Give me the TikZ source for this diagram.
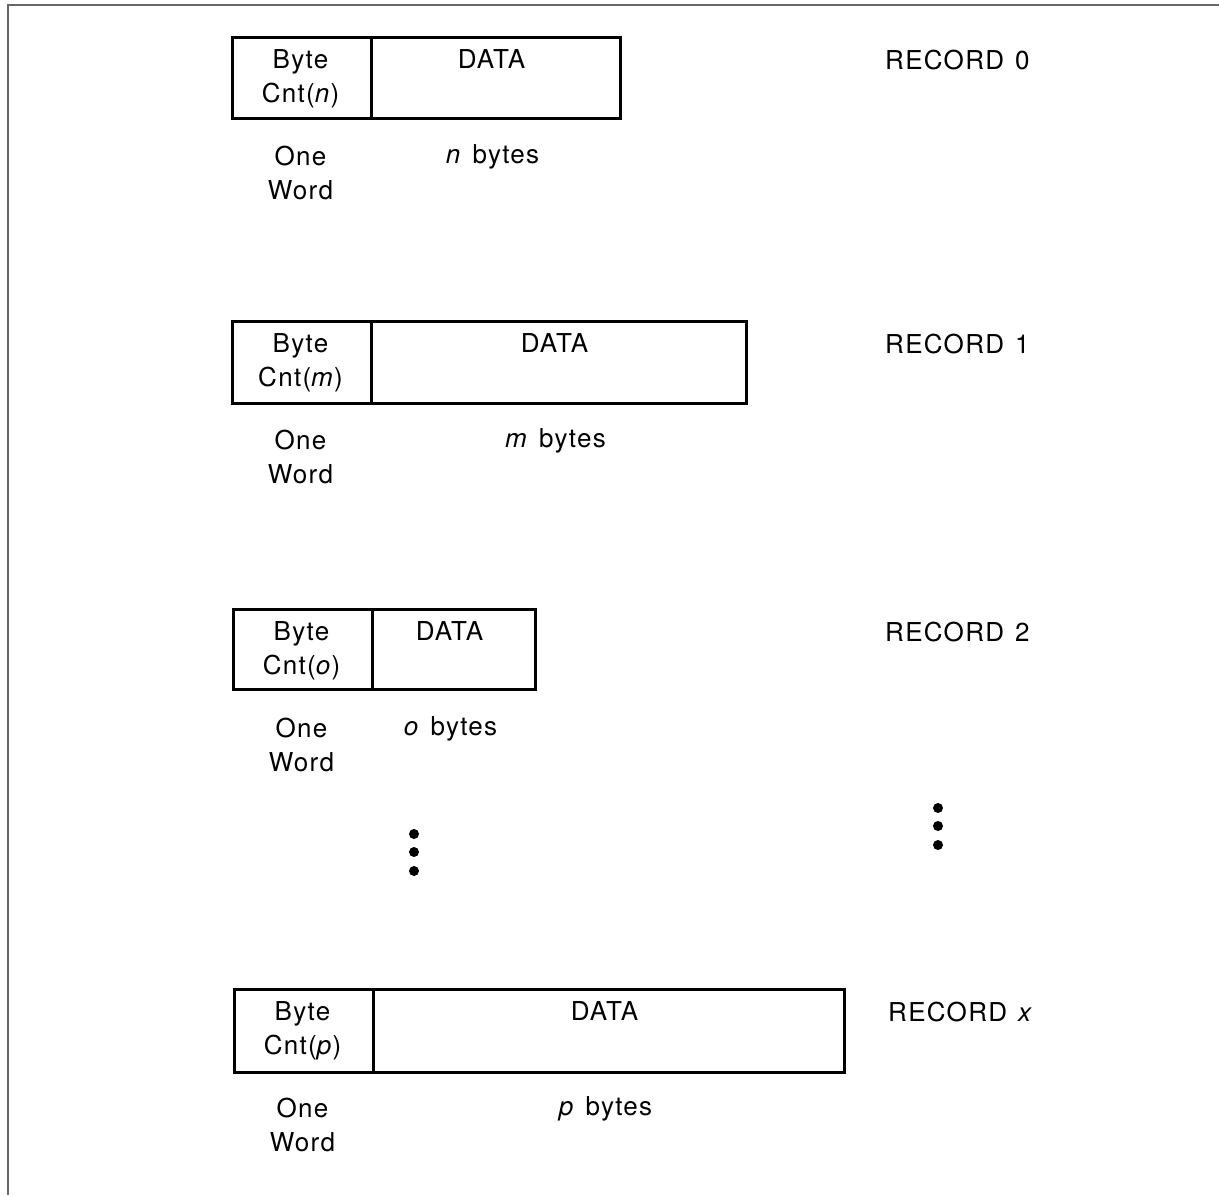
\documentclass[tikz,border=0pt]{standalone}
\usepackage{fontspec}
\setmainfont[LetterSpace=5,WordSpace=1.3]{TeX Gyre Heros}
\begin{document}
\begin{tikzpicture}[x=1pt,y=-1pt,
  cell/.style={draw=black,line width=2.6pt,inner sep=0pt,anchor=north west},
  txt/.style={inner sep=0pt,anchor=base,font=\fontsize{26}{30}\selectfont},
  rec/.style={inner sep=0pt,anchor=base west,font=\fontsize{26}{30}\selectfont},
  dot/.style={circle,fill=black,inner sep=0pt,minimum size=10pt},
  frame/.style={draw=black!60,line width=1.4pt}]
\useasboundingbox (0,0) rectangle (1219,1195);
% frame (top and left edges)
\coordinate (ftl) at (8,5);
\coordinate (ftr) at (1219,5);
\coordinate (fbl) at (8,1195);
\draw[frame] (ftr) -- (ftl) -- (fbl);
% #1 id, #2 left, #3 top, #4 divider, #5 right, #6 bottom, #7 letter, #8 record label, #9 label x
\newcommand\drawrecord[9]{%
  \node[cell,minimum width={(#4-#2)*1pt},minimum height={(#6-#3)*1pt}] (#1cnt) at (#2,#3) {};
  \node[cell,minimum width={(#5-#4)*1pt},minimum height={(#6-#3)*1pt}] (#1data) at (#4,#3) {};
  \node[txt] (#1byte) at ({(#2+#4)/2},{#3+32}) {Byte};
  \node[txt] (#1cntt) at ({(#2+#4)/2},{#3+66}) {Cnt(\textit{#7})};
  \node[txt] (#1datat) at ({(#4+#5)/2-3},{#3+32}) {DATA};
  \node[txt] (#1one) at ({(#2+#4)/2},{#3+129}) {One};
  \node[txt] (#1word) at ({(#2+#4)/2},{#3+163}) {Word};
  \node[txt] (#1bytes) at ({(#4+#5)/2-2},{#3+127}) {\textit{#7} bytes};
  \node[rec] (#1label) at (#9,{#3+33}) {#8};
}
\drawrecord{r0}{231}{36}{370}{619}{117}{n}{RECORD 0}{885}
\drawrecord{r1}{231}{320}{370}{745}{402}{m}{RECORD 1}{885}
\drawrecord{r2}{232}{608}{371}{534}{688}{o}{RECORD 2}{885}
\drawrecord{rx}{233}{988}{372}{843}{1071}{p}{RECORD \textit{x}}{888}
% ellipsis dots
\node[dot] (dl1) at (414,834) {};
\node[dot] (dl2) at (414,852) {};
\node[dot] (dl3) at (414,871) {};
\node[dot] (dr1) at (938,808) {};
\node[dot] (dr2) at (938,826) {};
\node[dot] (dr3) at (938,845) {};
\end{tikzpicture}
\end{document}
